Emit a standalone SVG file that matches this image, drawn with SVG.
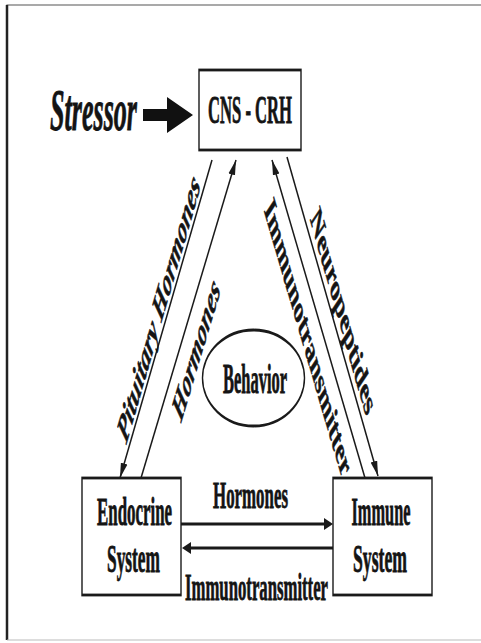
<svg xmlns="http://www.w3.org/2000/svg" width="481" height="643" viewBox="0 0 481 643">
<style>
 text { font-family: "Liberation Serif", "Times New Roman", serif; font-weight: bold; fill: #141414; stroke: #141414; stroke-width: 0.35; }
 .it { font-style: italic; }
 .box { fill: #fff; stroke: #1a1a1a; stroke-width: 1.4; }
 .ln { stroke: #1a1a1a; fill: none; }
 .diag { stroke-width: 1.5; marker-end: url(#ahd); }
 .hor { stroke-width: 3; marker-end: url(#ahh); }
</style>
<defs>
 <marker id="ahd" markerUnits="userSpaceOnUse" markerWidth="16" markerHeight="8" refX="15" refY="4" orient="auto" viewBox="0 0 16 8"><path d="M0,0.6 L15,4 L0,7.4 z" fill="#1a1a1a"/></marker>
 <marker id="ahh" markerUnits="userSpaceOnUse" markerWidth="9" markerHeight="12" refX="6" refY="6" orient="auto" viewBox="0 0 9 12"><path d="M0,0 L9,6 L0,12 z" fill="#1a1a1a"/></marker>
</defs>
<rect x="0" y="0" width="481" height="643" fill="#fff"/>
<g id="frame" fill="none">
 <path d="M7,640 V5 H481" stroke="#555" stroke-width="1.2"/>
 <line x1="7" y1="5" x2="7" y2="640" stroke="#222" stroke-width="2.5"/>
 <line x1="7" y1="640" x2="481" y2="640" stroke="#bbb" stroke-width="1"/>
</g>
<g id="connectors">
 <path id="stressor-arrow" d="M143,109 H167 V97 L193,115 L167,133 V121 H143 Z" fill="#111"/>
 <line class="ln diag" x1="212" y1="160" x2="120" y2="478"/>
 <line class="ln diag" x1="141" y1="478" x2="236" y2="160"/>
 <line class="ln diag" x1="365" y1="478" x2="272" y2="160"/>
 <line class="ln diag" x1="287" y1="157" x2="378" y2="476"/>
 <line class="ln hor" x1="181" y1="524" x2="330" y2="524"/>
 <line class="ln hor" x1="333" y1="548" x2="185" y2="548"/>
 <text class="it" font-size="18" text-anchor="middle" textLength="135" lengthAdjust="spacingAndGlyphs" transform="translate(158.5,308) scale(1,2.3) rotate(-56.4)" y="6">Pituitary Hormones</text>
 <text class="it" font-size="18" text-anchor="middle" textLength="70" lengthAdjust="spacingAndGlyphs" transform="translate(196,349) scale(1,2.3) rotate(-55.5)" y="6">Hormones</text>
 <text font-size="18" text-anchor="middle" textLength="141" lengthAdjust="spacingAndGlyphs" transform="translate(308,337.5) scale(1,2.3) rotate(56.1)" y="6">Immunotransmitter</text>
 <text font-size="18" text-anchor="middle" textLength="103" lengthAdjust="spacingAndGlyphs" transform="translate(343,311) scale(1,2.3) rotate(56.7)" y="6">Neuropeptides</text>
 <text font-size="16.5" text-anchor="middle" textLength="75" lengthAdjust="spacingAndGlyphs" transform="translate(250.5,508) scale(1,2.35)">Hormones</text>
 <text font-size="16.5" text-anchor="middle" textLength="143" lengthAdjust="spacingAndGlyphs" transform="translate(256.5,600) scale(1,2.35)">Immunotransmitter</text>
</g>
<g id="stressor">
 <text class="it" font-size="25" text-anchor="middle" textLength="87" lengthAdjust="spacingAndGlyphs" transform="translate(93.5,130) scale(1,2.35)">Stressor</text>
</g>
<g id="cns-crh">
 <rect class="box" transform="translate(199,70) scale(1,2)" width="102" height="40"/>
 <text font-size="17" text-anchor="middle" textLength="84" lengthAdjust="spacingAndGlyphs" transform="translate(250,123) scale(1,2.4)">CNS - CRH</text>
</g>
<g id="behavior">
 <ellipse class="box" transform="translate(253.5,378) scale(1,2)" rx="51" ry="24" stroke-width="1.4"/>
 <text font-size="17" text-anchor="middle" textLength="64" lengthAdjust="spacingAndGlyphs" transform="translate(255,393) scale(1,2.45)">Behavior</text>
</g>
<g id="endocrine">
 <rect class="box" transform="translate(82,478) scale(1,2)" width="99" height="58.5"/>
 <text font-size="17" text-anchor="middle" textLength="75" lengthAdjust="spacingAndGlyphs" transform="translate(134.5,525) scale(1,2.4)">Endocrine</text>
 <text font-size="17" text-anchor="middle" textLength="53" lengthAdjust="spacingAndGlyphs" transform="translate(133.5,572) scale(1,2.4)">System</text>
</g>
<g id="immune">
 <rect class="box" transform="translate(333,478) scale(1,2)" width="99" height="58.5"/>
 <text font-size="17" text-anchor="middle" textLength="59" lengthAdjust="spacingAndGlyphs" transform="translate(381,525) scale(1,2.4)">Immune</text>
 <text font-size="17" text-anchor="middle" textLength="54" lengthAdjust="spacingAndGlyphs" transform="translate(380,572) scale(1,2.4)">System</text>
</g>
</svg>
